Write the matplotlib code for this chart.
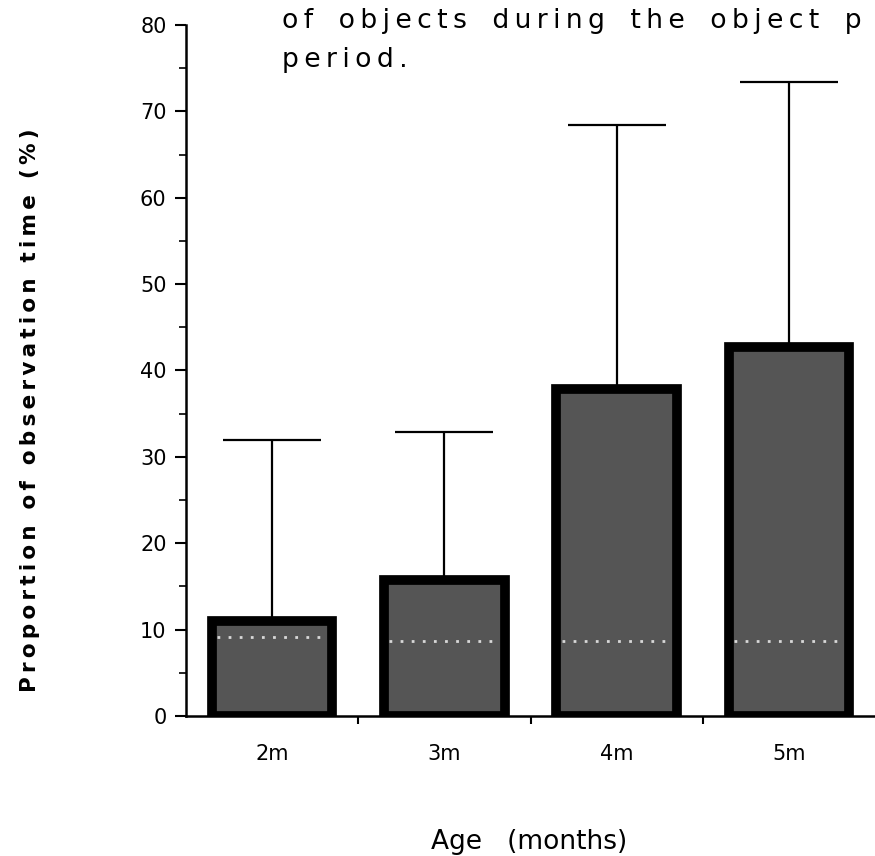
import matplotlib
matplotlib.use("Agg")
import matplotlib.pyplot as plt
import numpy as np

categories = ["2m", "3m", "4m", "5m"]
means = [11.0, 15.7, 37.8, 42.7]
upper = [31.9, 32.9, 68.4, 73.4]
dotted_level = [9.1, 8.7, 8.7, 8.7]
yticks = [0, 10, 20, 30, 40, 50, 60, 70, 80]

HAIR = "\u200a"
THIN = "\u2009"


def track(s, sp):
    return sp.join(list(s))


fig = plt.figure(figsize=(8.75, 8.56), dpi=100)
ax = fig.add_axes([0.2126, 0.1636, 0.7874, 0.8072])

x = np.arange(len(categories))
errs = np.array(upper) - np.array(means)
ax.bar(x, means, width=0.70, color="#555555", edgecolor="black", linewidth=7, zorder=2)
ax.errorbar(x, means, yerr=[np.zeros(len(x)), errs], fmt="none", ecolor="black",
            elinewidth=1.6, capsize=35, capthick=1.6, zorder=1)
for xi, d in zip(x, dotted_level):
    ax.plot([xi - 0.32, xi + 0.32], [d, d], linestyle=(0, (1, 3)), color="#d8d8d8",
            linewidth=2, zorder=3)

ax.set_xlim(-0.5, 3.5)
ax.set_ylim(0, 80)
ax.spines["top"].set_visible(False)
ax.spines["right"].set_visible(False)
ax.spines["left"].set_linewidth(1.8)
ax.spines["bottom"].set_linewidth(1.8)

ax.set_yticks(yticks)
ax.set_yticks(np.arange(0, 81, 5), minor=True)
ax.tick_params(axis="y", which="major", length=8, width=1.5, labelsize=15, pad=6)
ax.tick_params(axis="y", which="minor", length=5, width=1.2)

ax.set_xticks([0.5, 1.5, 2.5])
ax.set_xticklabels([])
ax.tick_params(axis="x", which="major", length=6, width=1.5, direction="out")
for xi, c in zip(x, categories):
    ax.text(xi, -3.3, c, ha="center", va="top", fontsize=15)

fig.text(0.034, 0.521, track("Proportion of observation time (%)", THIN), rotation=90,
         ha="center", va="center", fontsize=15.5, fontweight="bold")
fig.text(0.605, 0.016, "Age   (months)", ha="center", va="center", fontsize=19)

title1 = "   ".join(track(w, THIN) for w in "of objects during the object p".split())
fig.text(0.322, 0.976, title1, ha="left", va="center", fontsize=19.2)
fig.text(0.322, 0.930, track("period.", THIN), ha="left", va="center", fontsize=19.2)

fig.savefig("out.png", dpi=100)
